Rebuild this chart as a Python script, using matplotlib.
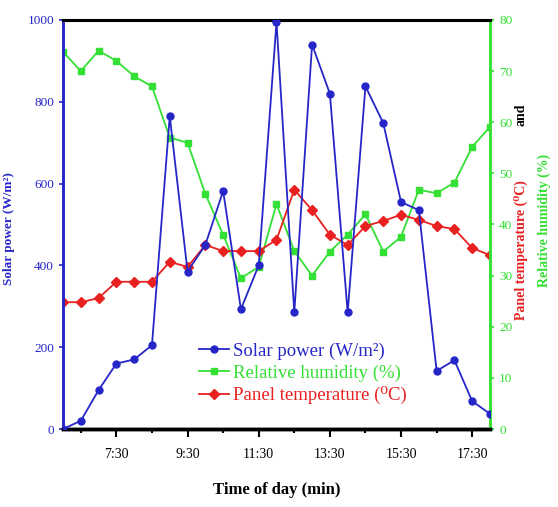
import matplotlib
matplotlib.use("Agg")
import matplotlib.pyplot as plt
from matplotlib.ticker import MultipleLocator, FixedLocator

# ===== DATOS =====

times = ["6:00", "6:30", "7:00", "7:30", "8:00", "8:30", "9:00", "9:30",
         "10:00", "10:30", "11:00", "11:30", "12:00", "12:30", "13:00", "13:30",
         "14:00", "14:30", "15:00", "15:30", "16:00", "16:30", "17:00", "17:30",
         "18:00"]

solar = [0, 20, 95, 160, 170, 205, 765, 385, 450, 582, 293, 400, 995,
         285, 940, 820, 285, 838, 748, 555, 535, 142, 168, 68, 37]

humidity = [73.8, 70, 74, 72, 69, 67, 57, 56, 46, 38, 29.5, 31.7, 44,
            34.8, 30, 34.7, 38, 42, 34.7, 37.6, 46.8, 46.1, 48.2, 55.2, 59.1]

temperature = [24.8, 24.8, 25.6, 28.8, 28.8, 28.8, 32.7, 31.7, 36, 34.8, 34.8,
               34.8, 37, 46.8, 42.8, 38, 36, 39.7, 40.7, 41.9, 40.9, 39.7,
               39.1, 35.4, 34]

tick_labels = ["7:30", "9:30", "11:30", "13:30", "15:30", "17:30"]


def to_hours(t):
    h, m = t.split(":")
    return int(h) + int(m) / 60


x = [to_hours(t) for t in times]
xt = [to_hours(t) for t in tick_labels]

BLUE = "#2626c8"
GREEN = "#33e033"
RED = "#e82020"

plt.rcParams["font.family"] = ["Liberation Serif", "DejaVu Serif"]

fig = plt.figure(figsize=(5.58, 5.07), dpi=100)
ax = fig.add_axes([63 / 558, 1 - 429 / 507, 427 / 558, 409 / 507])
ax2 = ax.twinx()

l1, = ax.plot(x, solar, color=BLUE, marker="o", markersize=5, lw=1.3,
              label="Solar power (W/m\u00b2)", zorder=3)
l2, = ax2.plot(x, humidity, color=GREEN, marker="s", markersize=5, lw=1.3,
               label="Relative humidity (%)")
l3, = ax2.plot(x, temperature, color=RED, marker="D", markersize=5, lw=1.3,
               label="Panel temperature (\u2070C)")

ax.set_zorder(ax2.get_zorder() + 1)
ax.patch.set_visible(False)

ax.set_xlim(6, 18)
ax.set_ylim(0, 1000)
ax2.set_ylim(0, 80)

ax.xaxis.set_major_locator(FixedLocator(xt))
ax.set_xticklabels(tick_labels)
ax.xaxis.set_minor_locator(FixedLocator([v + 1 for v in xt[:-1]] + [6.5]))
ax.yaxis.set_major_locator(MultipleLocator(200))
ax2.yaxis.set_major_locator(MultipleLocator(10))

ax.tick_params(axis="x", which="major", length=6, width=1.5, labelsize=10,
               pad=8)
ax.tick_params(axis="x", which="minor", length=3, width=1.5)
ax.tick_params(axis="y", colors=BLUE, length=3, width=1.2, labelsize=9.5)
ax2.tick_params(axis="y", colors=GREEN, length=3, width=1.2, labelsize=9.5)

for a in (ax, ax2):
    a.spines["top"].set_linewidth(2.2)
    a.spines["bottom"].set_linewidth(2.5)
    a.spines["left"].set_color(BLUE)
    a.spines["left"].set_linewidth(1.8)
    a.spines["right"].set_color(GREEN)
    a.spines["right"].set_linewidth(1.8)

ax.set_xlabel("Time of day (min)", fontsize=12, fontweight="bold")
ax.xaxis.set_label_coords(0.5, -(482 - 429) / 409)
ax.set_ylabel("Solar power (W/m\u00b2)", fontsize=9.5, fontweight="bold",
              color=BLUE)
ax.yaxis.set_label_coords(-(63 - 15) / 427, 0.49)

fig.text(521 / 558, 1 - 250 / 507, "Panel temperature (\u2070C)", rotation=90,
         color=RED, fontsize=10, fontweight="bold", ha="center", va="center")
fig.text(521 / 558, 1 - 115 / 507, "and", rotation=90,
         color="black", fontsize=10, fontweight="bold", ha="center", va="center")
fig.text(544 / 558, 1 - 220 / 507, "Relative humidity (%)", rotation=90,
         color=GREEN, fontsize=10, fontweight="bold", ha="center", va="center")

ax.legend(handles=[l1, l2, l3], loc="upper left", frameon=False,
          bbox_to_anchor=(190 / 558, 1 - 333 / 507),
          bbox_transform=fig.transFigure, fontsize=13.5, handlelength=1.6,
          handletextpad=0.2, labelspacing=0.25, borderpad=0,
          labelcolor=[BLUE, GREEN, RED])

fig.savefig("out.png", dpi=100)
